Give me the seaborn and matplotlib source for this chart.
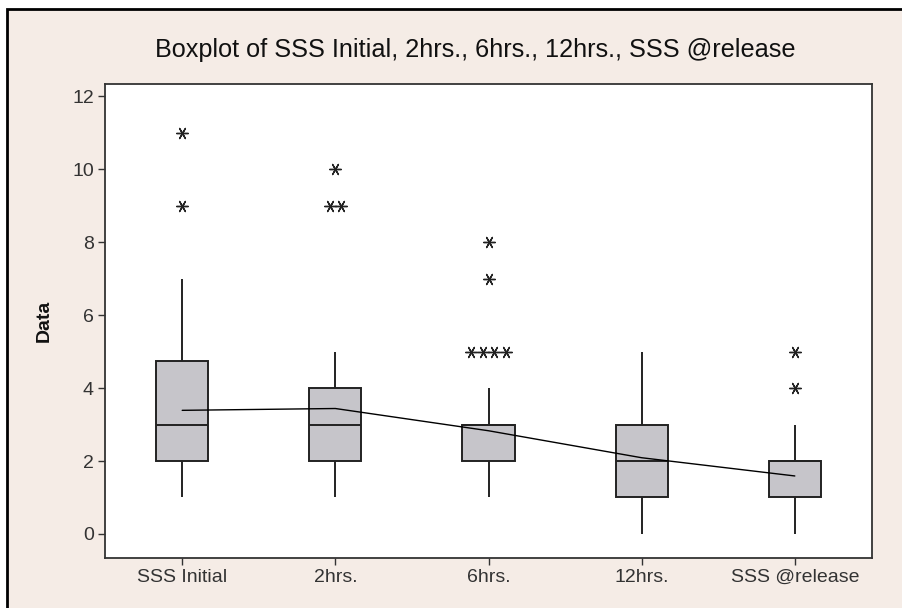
import numpy as np
import pandas as pd
import seaborn as sns
import matplotlib
matplotlib.use("Agg")
import matplotlib.pyplot as plt
from matplotlib.patches import Rectangle

# ---- data ----
categories = ["SSS Initial", "2hrs.", "6hrs.", "12hrs.", "SSS @release"]
sss_initial = [1, 1, 1, 1, 2, 2, 2, 2, 3, 3, 3, 3, 4, 5, 6, 7, 9, 11]
hrs2 = [1, 1, 2, 2, 2, 2, 3, 3, 3, 3, 4, 4, 4, 5, 9, 9, 10]
hrs6 = [1] + [2] * 7 + [3] * 14 + [4] + [5, 5, 5, 5, 7, 8]
hrs12 = [0, 1, 1, 1, 2, 2, 2, 3, 3, 4, 5]
sss_release = [0, 1, 1, 1, 1, 1, 2, 2, 2, 2, 2, 3, 4, 5]
means = [3.39, 3.44, 2.83, 2.09, 1.59]
yticks = [0, 2, 4, 6, 8, 10, 12]

groups = [sss_initial, hrs2, hrs6, hrs12, sss_release]
df = pd.DataFrame({
    "group": np.repeat(categories, [len(g) for g in groups]),
    "value": np.concatenate(groups).astype(float),
})

BG = "#F5ECE6"
BOX = "#C6C5CA"
INK = "#222222"

sns.set_style("white")
plt.rcParams["font.family"] = ["Liberation Sans", "DejaVu Sans"]
fig = plt.figure(figsize=(9.02, 6.08), dpi=100, facecolor="white")
# beige panel with black outer border (right/bottom edges run off the picture)
fig.patches.append(Rectangle((7 / 902, -0.05), 1.2, 1.05 - 9 / 608, transform=fig.transFigure,
                             facecolor=BG, edgecolor="black", linewidth=2.0, zorder=-10))
ax = fig.add_axes([105 / 902, 1 - 558 / 608, (872 - 105) / 902, (558 - 84) / 608])
ax.set_facecolor("white")

sns.boxplot(data=df, x="group", y="value", order=categories, ax=ax, width=0.34,
            color=BOX, saturation=1, showfliers=False, whis=1.5,
            boxprops=dict(facecolor=BOX, edgecolor=INK, linewidth=1.4),
            medianprops=dict(color=INK, linewidth=1.4),
            whiskerprops=dict(color=INK, linewidth=1.4),
            capprops=dict(linewidth=0), linecolor=INK)

# outliers (1.5 IQR rule), ties spread side by side
fx, fy = [], []
for i, g in enumerate(groups):
    a = np.asarray(g, float)
    q1, q3 = np.percentile(a, [25, 75])
    iqr = q3 - q1
    out = a[(a > q3 + 1.5 * iqr) | (a < q1 - 1.5 * iqr)]
    for v in np.unique(out):
        k = int((out == v).sum())
        offs = (np.arange(k) - (k - 1) / 2) * 0.076
        fx.extend(i + offs)
        fy.extend([v] * k)
sns.scatterplot(x=fx, y=fy, ax=ax, marker=(6, 2, 90), s=70, color=INK,
                linewidth=1.0, edgecolor=INK, zorder=5)

# mean connect line
sns.lineplot(x=np.arange(len(means)), y=means, ax=ax, color="black", linewidth=1.0,
             zorder=6)

ax.set_xlim(-0.504, 4.504)
ax.set_ylim(-0.66, 12.34)
ax.set_yticks(yticks)
ax.set_xlabel("")
ax.set_ylabel("Data", fontsize=14, fontweight="bold", labelpad=14, color="#111111")
for s in ax.spines.values():
    s.set_visible(True)
    s.set_color("#333333")
    s.set_linewidth(1.3)
ax.tick_params(axis="both", direction="out", length=5, width=1, color="#333333",
               labelsize=14, labelcolor="#333333", left=True, bottom=True, pad=3)
fig.text(0.527, 1 - 50 / 608, "Boxplot of SSS Initial, 2hrs., 6hrs., 12hrs., SSS @release",
         ha="center", va="center", fontsize=18.2, color="#111111")

fig.savefig("out.png", dpi=100, facecolor="white")
